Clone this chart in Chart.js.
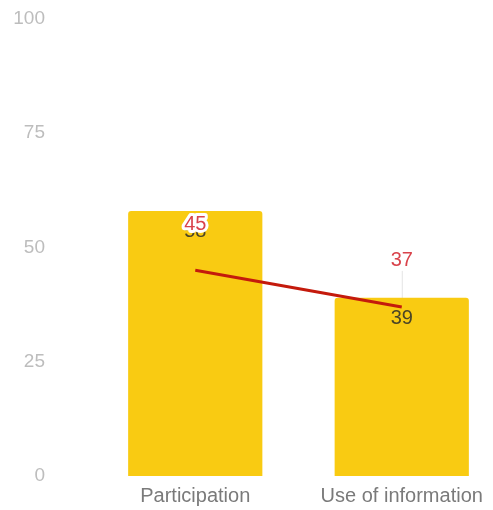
<!DOCTYPE html>
<html>
<head>
<meta charset="utf-8">
<script src="https://cdn.jsdelivr.net/npm/chart.js@4/dist/chart.umd.min.js"></script>
<style>
  html, body { margin: 0; padding: 0; background: #fff; overflow: hidden; }
  canvas { display: block; }
</style>
</head>
<body>
<canvas id="chart" width="505" height="510"></canvas>
<script>
const categories = ["Participation", "Use of information"];
const barValues = [58, 39];
const lineValues = [45, 37];
const yTicks = [0, 25, 50, 75, 100];

const FONT = "'Liberation Sans', Arial, sans-serif";

// value labels: bars inside near the top, line values above with a white halo
const valueLabels = {
  id: "valueLabels",
  beforeDatasetsDraw(chart) {
    // thin leader lines, drawn first so the bars cover them
    const ctx = chart.ctx;
    ctx.save();
    ctx.strokeStyle = "#e4e4e4";
    ctx.lineWidth = 1;
    chart.getDatasetMeta(1).data.forEach((pt) => {
      ctx.beginPath();
      ctx.moveTo(pt.x + 0.5, pt.y - 36);
      ctx.lineTo(pt.x + 0.5, pt.y);
      ctx.stroke();
    });
    ctx.restore();
  },
  afterDatasetsDraw(chart) {
    const ctx = chart.ctx;
    ctx.save();
    ctx.textAlign = "center";
    ctx.textBaseline = "middle";
    ctx.font = "20px " + FONT;

    chart.getDatasetMeta(0).data.forEach((bar, i) => {
      ctx.fillStyle = "#4b4526";
      ctx.fillText(barValues[i], bar.x, bar.y + 21);
    });
    chart.getDatasetMeta(1).data.forEach((pt, i) => {
      const ly = pt.y - 46;
      ctx.lineJoin = "round";
      ctx.strokeStyle = "#ffffff";
      ctx.lineWidth = 6;
      ctx.strokeText(lineValues[i], pt.x, ly);
      ctx.fillStyle = "#d9434b";
      ctx.fillText(lineValues[i], pt.x, ly);
    });
    ctx.restore();
  }
};

new Chart(document.getElementById("chart"), {
  data: {
    labels: categories,
    datasets: [
      {
        type: "bar",
        data: barValues,
        backgroundColor: "#f9cb12",
        borderRadius: { topLeft: 3, topRight: 3 },
        borderSkipped: "bottom",
        categoryPercentage: 0.65,
        barPercentage: 1,
        order: 2
      },
      {
        type: "line",
        data: lineValues,
        borderColor: "#c41a0c",
        borderWidth: 3,
        pointRadius: 0,
        order: 1
      }
    ]
  },
  options: {
    responsive: false,
    animation: false,
    layout: { padding: { top: 19, right: 0, bottom: -6, left: 0 } },
    plugins: {
      legend: { display: false },
      tooltip: { enabled: false }
    },
    scales: {
      x: {
        grid: { display: false, drawTicks: false },
        border: { display: false },
        ticks: {
          color: "#7a7a7a",
          padding: 8,
          maxRotation: 0,
          font: { family: FONT, size: 20 }
        }
      },
      y: {
        min: 0,
        max: 100,
        afterBuildTicks(scale) {
          scale.ticks = yTicks.map(v => ({ value: v }));
        },
        afterFit(scale) {
          scale.width = 92;
          scale.paddingTop = 0;
          scale.paddingBottom = 0;
        },
        grid: { display: false, drawTicks: false },
        border: { display: false },
        ticks: {
          color: "#bdbdbd",
          padding: 47,
          font: { family: FONT, size: 19 }
        }
      }
    }
  },
  plugins: [valueLabels]
});
</script>
</body>
</html>
